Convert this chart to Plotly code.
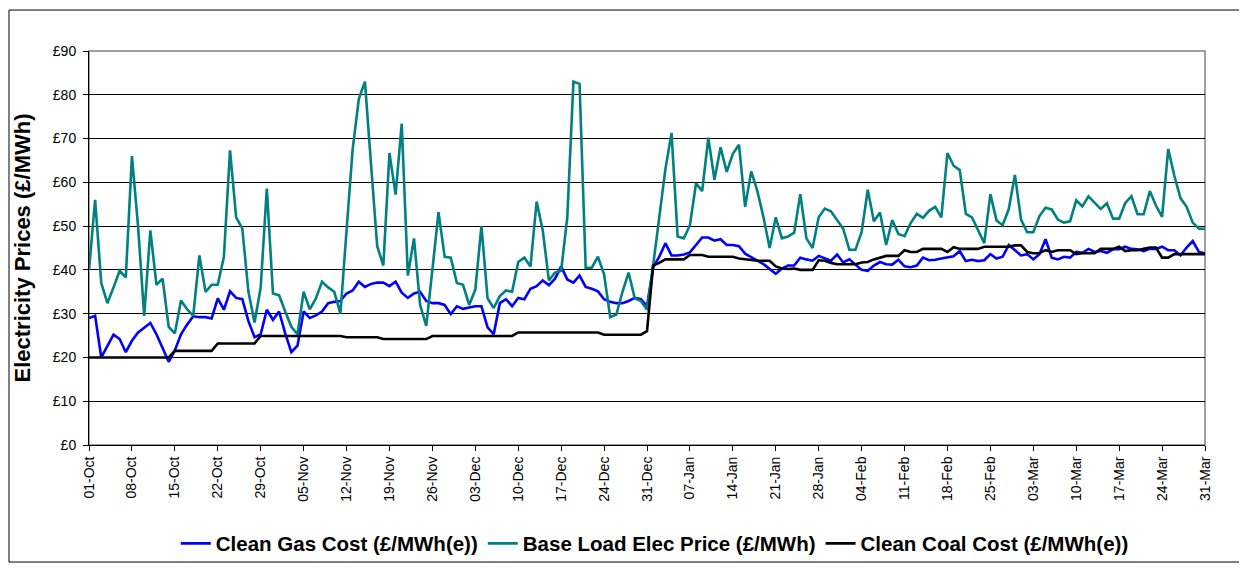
import pandas as pd
import plotly.graph_objects as go

# Daily dates 01-Oct-2007 .. 31-Mar-2008 (183 days)
dates = pd.date_range("2007-10-01", "2008-03-31", freq="D")

series_names = [
    "Clean Gas Cost (£/MWh(e))",
    "Base Load Elec Price (£/MWh)",
    "Clean Coal Cost (£/MWh(e))",
]

base_load = [
    40, 56, 37, 32.4, 36, 39.8, 38.3, 66, 50, 29.5,
    49, 36.6, 38, 27, 25.5, 33, 31, 29.5, 43.3, 35,
    36.6, 36.6, 43, 67.3, 52, 49.5, 35, 28, 36, 58.6,
    34.6, 34.2, 30.5, 27, 25.3, 35, 31, 33.5, 37.3, 36,
    35, 30, 49, 67.6, 79, 83, 64, 45.4, 41, 66.7,
    57.2, 73.4, 38.7, 47.2, 32, 27.2, 40, 53.2, 43, 42.8,
    37, 36.6, 32, 35.5, 50, 33.5, 31.3, 34, 35.3, 35,
    41.8, 42.8, 40.8, 55.6, 49, 37.6, 39.4, 39.8, 52, 83,
    82.5, 40.5, 40.5, 43, 39, 29.2, 29.8, 35, 39.4, 33.5,
    32.9, 30.9, 41, 52, 63, 71.3, 47.6, 47.2, 50.2, 59.8,
    58, 70.2, 60.6, 68, 62.4, 66.5, 68.6, 54.4, 62.5, 58,
    52, 45, 52, 47.2, 47.6, 48.5, 57.3, 47.2, 45, 52,
    54, 53.4, 51.3, 49.4, 44.6, 44.6, 48.6, 58.3, 51.1, 53.1,
    45.7, 51.4, 48.2, 47.7, 50.7, 52.8, 51.9, 53.5, 54.4, 52.0,
    66.7, 63.8, 62.8, 52.8, 52.0, 49.1, 46.1, 57.3, 51.3, 50.2,
    53.9, 61.7, 51.5, 48.6, 48.6, 52.3, 54.2, 53.8, 51.5, 50.8,
    51.1, 55.9, 54.5, 56.8, 55.3, 53.9, 55.2, 51.7, 51.7, 55.3,
    56.8, 52.7, 52.7, 58.0, 54.7, 52.1, 67.6, 61.5, 56.4, 54.4,
    50.8, 49.4, 49.4,
]

gas_cost = [
    29, 29.5, 20, 22.7, 25.2, 24.2, 21.2, 23.8, 25.7, 26.8,
    27.9, 25.3, 22.3, 19, 21.6, 25.3, 27.5, 29.4, 29.2, 29.2,
    28.9, 33.5, 30.9, 35.1, 33.6, 33.3, 28.3, 24.6, 25.3, 30.9,
    28.6, 30.5, 25.5, 21.2, 22.7, 30.5, 29, 29.6, 30.5, 32.4,
    32.7, 32.9, 34.6, 35.3, 37.3, 36.1, 36.8, 37.1, 37.1, 36.3,
    37.3, 34.8, 33.6, 34.6, 35, 32.9, 32.4, 32.4, 32, 29.9,
    31.7, 31.1, 31.4, 31.7, 31.7, 26.9, 25.3, 32.4, 33.3, 31.7,
    33.6, 33.3, 35.7, 36.3, 37.6, 36.5, 38, 40.8, 37.8, 37.1,
    38.7, 36.1, 35.7, 35.1, 33.3, 32.7, 32.4, 32.4, 32.9, 33.6,
    33.3, 31.7, 40.5, 43, 46.1, 43.3, 43.3, 43.5, 44, 45.7,
    47.4, 47.4, 46.7, 47, 45.7, 45.7, 45.4, 43.7, 42.8, 42.1,
    41.3, 40.2, 39.1, 40.3, 41, 41, 42.8, 42.4, 42.1, 43.2,
    42.6, 42.1, 43.5, 41.7, 42.4, 41.3, 40.0, 39.8, 41.0, 41.8,
    41.3, 41.2, 42.3, 40.8, 40.6, 41.0, 42.8, 42.2, 42.3, 42.6,
    42.9, 43.1, 44.3, 42.0, 42.3, 42.0, 42.2, 43.6, 42.6, 43.0,
    45.7, 44.5, 43.3, 43.6, 42.4, 43.6, 47, 42.8, 42.4, 43,
    42.8, 44.1, 43.9, 44.8, 44.1, 44.3, 43.9, 44.7, 44.7, 45.3,
    44.8, 44.7, 44.3, 44.8, 44.8, 45.3, 44.5, 44.5, 43.3, 45.1,
    46.6, 44.1, 43.8,
]

coal_cost = [
    20, 20, 20, 20, 20, 20, 20, 20, 20, 20,
    20, 20, 20, 20, 21.5, 21.5, 21.5, 21.5, 21.5, 21.5,
    21.5, 23.2, 23.2, 23.2, 23.2, 23.2, 23.2, 23.2, 24.9, 24.9,
    24.9, 24.9, 24.9, 24.9, 24.9, 24.9, 24.9, 24.9, 24.9, 24.9,
    24.9, 24.9, 24.6, 24.6, 24.6, 24.6, 24.6, 24.6, 24.2, 24.2,
    24.2, 24.2, 24.2, 24.2, 24.2, 24.2, 24.9, 24.9, 24.9, 24.9,
    24.9, 24.9, 24.9, 24.9, 24.9, 24.9, 24.9, 24.9, 24.9, 24.9,
    25.7, 25.7, 25.7, 25.7, 25.7, 25.7, 25.7, 25.7, 25.7, 25.7,
    25.7, 25.7, 25.7, 25.7, 25.2, 25.2, 25.2, 25.2, 25.2, 25.2,
    25.2, 26, 41, 41.6, 42.4, 42.4, 42.4, 42.4, 43.4, 43.4,
    43.4, 43.0, 43.0, 43.0, 43.0, 43.0, 42.6, 42.4, 42.3, 42.1,
    42.1, 42.1, 40.8, 40.3, 40.2, 40.3, 40.0, 40.0, 40.0, 42.2,
    42.1, 41.6, 41.3, 41.3, 41.3, 41.3, 41.7, 41.8, 42.4, 42.8,
    43.2, 43.2, 43.2, 44.5, 44.1, 44.1, 44.8, 44.8, 44.8, 44.8,
    44.1, 45.2, 44.8, 44.8, 44.8, 44.8, 45.3, 45.3, 45.3, 45.3,
    45.3, 45.6, 45.6, 44.1, 43.8, 43.8, 44.5, 44.1, 44.5, 44.5,
    44.5, 43.6, 43.8, 43.8, 43.8, 44.8, 44.8, 44.8, 45.3, 44.3,
    44.5, 44.5, 44.8, 45.1, 45.1, 42.8, 42.8, 43.6, 43.6, 43.6,
    43.6, 43.6, 43.6,
]

y_tick_vals = [0, 10, 20, 30, 40, 50, 60, 70, 80, 90]
y_tick_text = ["£0", "£10", "£20", "£30", "£40", "£50", "£60", "£70", "£80", "£90"]

colors = ["#0000FF", "#008080", "#000000"]

fig = go.Figure()
for name, vals, col in zip(series_names, [gas_cost, base_load, coal_cost], colors):
    fig.add_trace(go.Scatter(
        x=dates, y=vals, name=name, mode="lines",
        line=dict(color=col, width=2.6),
    ))

W, H = 1247, 568
L, R, T, B = 81, 1197, 43, 447
pw, ph = R - L, B - T

fig.update_layout(
    width=W, height=H,
    margin=dict(l=L, r=W - R, t=T, b=H - B, pad=0),
    paper_bgcolor="white", plot_bgcolor="white",
    font=dict(family="Liberation Sans, Arial, sans-serif", size=14, color="black"),
    showlegend=True,
    legend=dict(
        orientation="h", x=0.507, xanchor="center", y=-(548 - B) / ph, yanchor="middle",
        font=dict(family="Liberation Sans, Arial", size=20.5, color="black", weight="bold"),
        bgcolor="rgba(0,0,0,0)", itemwidth=30, tracegroupgap=0,
    ),
    xaxis=dict(
        type="date",
        range=[dates[0], dates[-1]],
        tick0=dates[0], dtick=7 * 86400000,
        tickformat="%d-%b", tickangle=-90,
        ticks="outside", ticklen=5, tickcolor="black",
        showline=True, linecolor="black", linewidth=1,
        showgrid=False, zeroline=False,
        tickfont=dict(size=14),
    ),
    yaxis=dict(
        range=[0, 90], tickvals=y_tick_vals, ticktext=y_tick_text,
        ticks="outside", ticklen=5, tickcolor="black",
        ticklabelstandoff=4,
        showline=True, linecolor="black", linewidth=1,
        showgrid=True, gridcolor="#000000", gridwidth=1,
        zeroline=False,
        tickfont=dict(size=14),
        title=dict(text="<b>Electricity Prices (£/MWh)</b>", font=dict(size=22), standoff=16),
    ),
    shapes=[
        dict(type="rect", xref="paper", yref="paper", x0=0, x1=1, y0=0, y1=1,
             line=dict(color="#808080", width=1.5), layer="below"),
        dict(type="rect", xref="paper", yref="paper",
             x0=(1 - L) / pw, x1=(W - 1 - L) / pw,
             y0=(B - (H - 1)) / ph, y1=(B - 1) / ph,
             line=dict(color="#000000", width=1)),
    ],
)

fig.write_html("out.html")
